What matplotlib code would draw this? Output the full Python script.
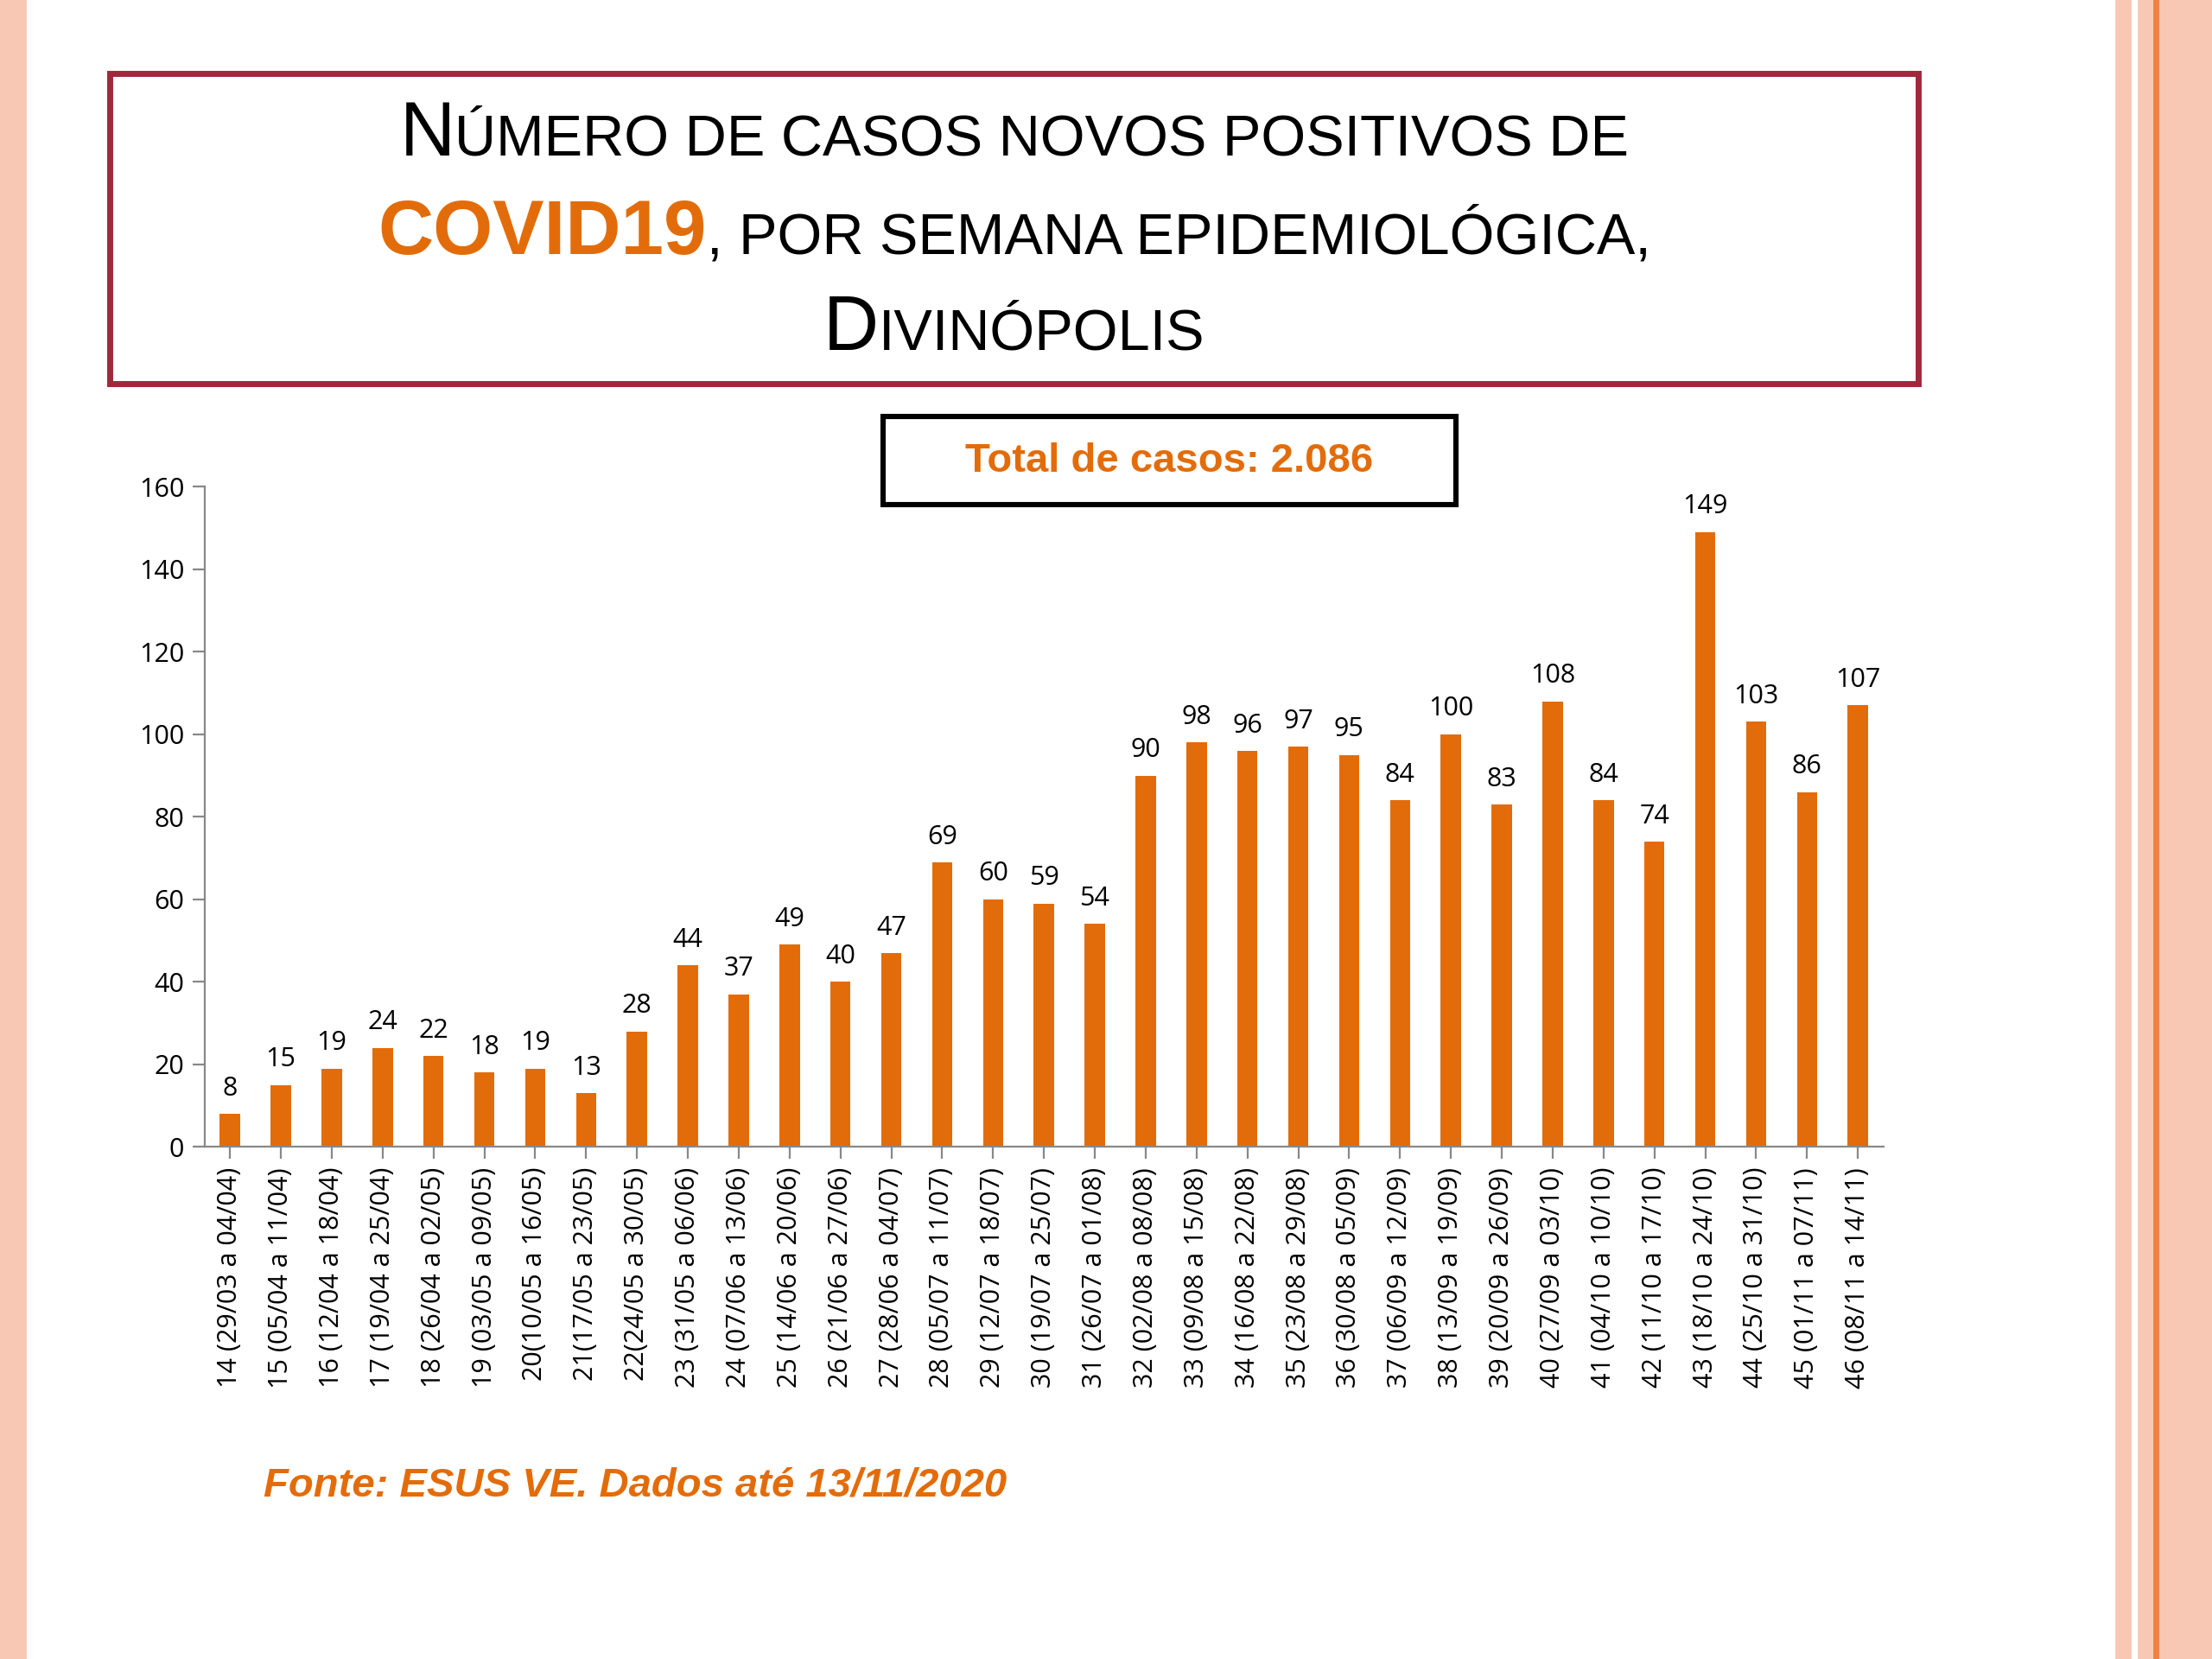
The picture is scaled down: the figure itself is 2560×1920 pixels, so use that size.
import matplotlib
matplotlib.use("Agg")
import matplotlib.pyplot as plt
from matplotlib.patches import Rectangle

semanas = ["14 (29/03 a 04/04)", "15 (05/04 a 11/04)", "16 (12/04 a 18/04)", "17 (19/04 a 25/04)",
           "18 (26/04 a 02/05)", "19 (03/05 a 09/05)", "20(10/05 a 16/05)", "21(17/05 a 23/05)",
           "22(24/05 a 30/05)", "23 (31/05 a 06/06)", "24 (07/06 a 13/06)", "25 (14/06 a 20/06)",
           "26 (21/06 a 27/06)", "27 (28/06 a 04/07)", "28 (05/07 a 11/07)", "29 (12/07 a 18/07)",
           "30 (19/07 a 25/07)", "31 (26/07 a 01/08)", "32 (02/08 a 08/08)", "33 (09/08 a 15/08)",
           "34 (16/08 a 22/08)", "35 (23/08 a 29/08)", "36 (30/08 a 05/09)", "37 (06/09 a 12/09)",
           "38 (13/09 a 19/09)", "39 (20/09 a 26/09)", "40 (27/09 a 03/10)", "41 (04/10 a 10/10)",
           "42 (11/10 a 17/10)", "43 (18/10 a 24/10)", "44 (25/10 a 31/10)", "45 (01/11 a 07/11)",
           "46 (08/11 a 14/11)"]
casos = [8, 15, 19, 24, 22, 18, 19, 13, 28, 44, 37, 49, 40, 47, 69, 60, 59, 54,
         90, 98, 96, 97, 95, 84, 100, 83, 108, 84, 74, 149, 103, 86, 107]

laranja = "#E36C0A"
fig = plt.figure(figsize=(12.8, 9.6), dpi=200)
W, H = 1568, 1176

def fx(x): return x / W
def fy(y): return 1 - y / H

# decoração lateral
fig.patches.append(Rectangle((0, 0), fx(18), 1, transform=fig.transFigure, color="#F8C8B4", zorder=0))
fig.patches.append(Rectangle((fx(1500), 0), fx(10), 1, transform=fig.transFigure, color="#F8C8B4", zorder=0))
fig.patches.append(Rectangle((fx(1516), 0), fx(52), 1, transform=fig.transFigure, color="#F8C8B4", zorder=0))
fig.patches.append(Rectangle((fx(1527), 0), fx(2.5), 1, transform=fig.transFigure, color="#F08040", zorder=0))

# caixa do título
fig.patches.append(Rectangle((fx(78), fy(272)), fx(1282), (272 - 52) / H, transform=fig.transFigure,
                             fill=False, ec="#A0283C", lw=2.5))
fig.canvas.draw()
renderer = fig.canvas.get_renderer()

def linha(pecas, y):
    # pecas: (texto, tamanho, cor, peso)
    objs = [fig.text(0, fy(y), t, fontsize=s, color=c, fontweight=w, family="Liberation Sans", va="baseline")
            for t, s, c, w in pecas]
    larguras = [o.get_window_extent(renderer).width / fig.bbox.width for o in objs]
    x = fx(719) - sum(larguras) / 2
    for o, l in zip(objs, larguras):
        o.set_x(x)
        x += l

G, P = 32, 24
linha([("N", G, "black", "normal"), ("ÚMERO DE CASOS NOVOS POSITIVOS DE", P, "black", "normal")], 110)
linha([("COVID19", G, laranja, "bold"), (", POR SEMANA EPIDEMIOLÓGICA,", P, "black", "normal")], 180)
linha([("D", G, "black", "normal"), ("IVINÓPOLIS", P, "black", "normal")], 248)

# caixa do total
fig.patches.append(Rectangle((fx(626), fy(358)), fx(406), 63 / H, transform=fig.transFigure,
                             fill=False, ec="black", lw=2.2))
fig.text(fx(829), fy(327), "Total de casos: 2.086", fontsize=17, color=laranja, fontweight="bold",
         family="Liberation Sans", ha="center", va="center")

ax = fig.add_axes([fx(145), fy(813), fx(1335 - 145), (813 - 345) / H])
x = range(len(casos))
barras = ax.bar(x, casos, width=0.4, color=laranja)
for xi, v in zip(x, casos):
    ax.text(xi, v + 3, str(v), ha="center", va="bottom", fontsize=11, family="Open Sans")
ax.set_ylim(0, 160)
ax.set_xlim(-0.5, len(casos) - 0.5)
ax.set_yticks(range(0, 161, 20))
ax.set_xticks(list(x))
ax.set_xticklabels(semanas, rotation=90, fontsize=11, family="Open Sans")
for t in ax.get_yticklabels():
    t.set_fontsize(11)
    t.set_family("Open Sans")
ax.spines["top"].set_visible(False)
ax.spines["right"].set_visible(False)
ax.spines["left"].set_color("#888888")
ax.spines["bottom"].set_color("#888888")
ax.tick_params(colors="#888888", labelcolor="black", length=5)

fig.text(fx(187), fy(1053), "Fonte: ESUS VE. Dados até 13/11/2020", fontsize=17, color=laranja,
         fontweight="bold", fontstyle="italic", family="Liberation Sans", va="center")

fig.savefig("out.png", dpi=200)
